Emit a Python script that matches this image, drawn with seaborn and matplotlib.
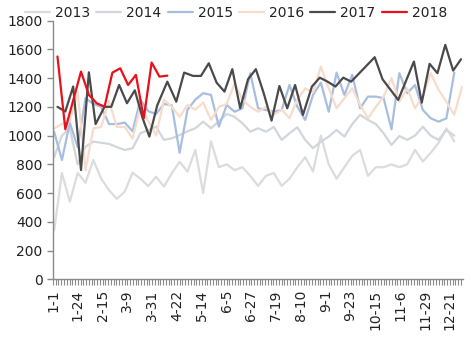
import numpy as np
import pandas as pd
import matplotlib
matplotlib.use("Agg")
import matplotlib.pyplot as plt
import seaborn as sns

years = ["2013", "2014", "2015", "2016", "2017", "2018"]

tick_labels = ["1-1", "1-24", "2-15", "3-9", "3-31", "4-22", "5-14", "6-5", "6-27",
               "7-19", "8-10", "9-1", "9-23", "10-15", "11-6", "11-29", "12-21"]

v2013 = [340, 740, 540, 740, 672, 830, 700, 620, 560, 610, 742, 700, 649, 714, 645, 738,
         818, 749, 900, 600, 960, 780, 800, 760, 780, 720, 650, 720, 740, 650, 700, 780,
         850, 750, 1000, 800, 700, 780, 860, 900, 720, 780, 780, 800, 780, 800, 900, 820,
         880, 950, 1050, 960]
v2014 = [850, 1000, 1050, 800, 923, 958, 950, 942, 920, 900, 912, 1016, 1039, 1062, 970,
         981, 1004, 1030, 1051, 1097, 1051, 1100, 1150, 1130, 1086, 1027, 1051, 1027, 1060,
         970, 1016, 1058, 970, 912, 958, 993, 1039, 993, 1080, 1144, 1109, 1080, 1016, 935,
         997, 970, 1000, 1062, 1000, 970, 1039, 1000]
v2015 = [1027, 830, 1090, 920, 1260, 1220, 1200, 1080, 1080, 1090, 1030, 1250, 1170, 1150,
         1220, 1210, 880, 1180, 1250, 1295, 1283, 1062, 1213, 1166, 1190, 1434, 1190, 1178,
         1166, 1178, 1352, 1201, 1109, 1283, 1368, 1166, 1438, 1283, 1422, 1190, 1271, 1271,
         1260, 1044, 1434, 1295, 1352, 1178, 1120, 1097, 1120, 1438]
v2016 = [1050, 1080, 1100, 1300, 760, 1050, 1060, 1240, 1060, 1060, 980, 1200, 1100, 1000,
         1250, 1200, 1130, 1213, 1180, 1230, 1110, 1200, 1220, 1364, 1250, 1200, 1166, 1200,
         1144, 1180, 1120, 1250, 1329, 1300, 1480, 1329, 1190, 1260, 1329, 1213, 1120, 1200,
         1271, 1400, 1236, 1329, 1190, 1271, 1434, 1318, 1236, 1144, 1341]
d2017 = [4, 11, 18, 25, 32, 38, 46, 52, 59, 66, 73, 80, 86, 93, 102, 110, 117, 125, 132,
         139, 146, 153, 160, 167, 174, 181, 188, 195, 202, 209, 216, 223, 231, 238, 245, 252,
         259, 266, 287, 294, 308, 322, 329, 336, 343, 350, 357, 364]
v2017 = [1200, 1167, 1341, 760, 1440, 1080, 1200, 1200, 1352, 1225, 1315, 1120, 993, 1210,
         1375, 1236, 1438, 1415, 1415, 1503, 1368, 1306, 1462, 1190, 1392, 1462, 1295, 1104,
         1345, 1190, 1352, 1144, 1341, 1403, 1375, 1341, 1403, 1375, 1545, 1392, 1248, 1515,
         1229, 1499, 1434, 1631, 1452, 1531]
d2018 = [4, 11, 25, 32, 39, 46, 53, 60, 67, 74, 81, 88, 95, 102]
v2018 = [1550, 1044, 1445, 1283, 1225, 1201, 1438, 1468, 1352, 1422, 1120, 1508, 1410, 1417]

colors = {"2013": "#dcdcdc", "2014": "#d2d6dc", "2015": "#a8bee0",
          "2016": "#f8dccb", "2017": "#4a4a4a", "2018": "#e8101a"}

frames = []
for y, vals in [("2013", v2013), ("2014", v2014), ("2015", v2015), ("2016", v2016)]:
    days = [1 + 7 * i for i in range(len(vals))]
    frames.append(pd.DataFrame({"day": days, "value": vals, "year": y}))
frames.append(pd.DataFrame({"day": d2017, "value": v2017, "year": "2017"}))
frames.append(pd.DataFrame({"day": d2018, "value": v2018, "year": "2018"}))
df = pd.concat(frames, ignore_index=True)

sns.set_theme(style="white")
plt.rcParams["font.family"] = ["DejaVu Sans"]

fig = plt.figure(figsize=(4.71, 3.37), dpi=100)
ax = fig.add_axes([0.1125, 0.171, 0.871, 0.768])

sns.lineplot(data=df, x="day", y="value", hue="year", hue_order=years,
             palette=colors, linewidth=1.6, ax=ax, sort=False, estimator=None)

ax.set_xlim(0, 366)
ax.set_ylim(0, 1800)
ax.set_yticks(range(0, 1801, 200))
major = np.linspace(0, 354, len(tick_labels))
ax.set_xticks(major)
ax.set_xticklabels(tick_labels, rotation=90)
ax.set_xticks(np.arange(0, 366, 354 / 144), minor=True)
ax.set_xlabel("")
ax.set_ylabel("")

for s in ["top", "right"]:
    ax.spines[s].set_visible(False)
for s in ["left", "bottom"]:
    ax.spines[s].set_color("#8a8a8a")
    ax.spines[s].set_linewidth(1.0)

ax.tick_params(axis="y", which="major", length=4.5, width=1, color="#8a8a8a",
               labelsize=10, labelcolor="#222222", pad=3, left=True)
ax.tick_params(axis="x", which="both", length=4.5, width=0.8, color="#8a8a8a",
               direction="out", bottom=True)
ax.tick_params(axis="x", which="major", labelsize=10, labelcolor="#222222", pad=3)

leg = ax.legend(loc="center", bbox_to_anchor=(0.501, 0.961), bbox_transform=fig.transFigure,
                ncol=6, frameon=False, fontsize=10, handlelength=1.8, handletextpad=0.36,
                columnspacing=0.45, borderaxespad=0, borderpad=0)
for t in leg.get_texts():
    t.set_color("#222222")

fig.savefig("out.png", dpi=100)
